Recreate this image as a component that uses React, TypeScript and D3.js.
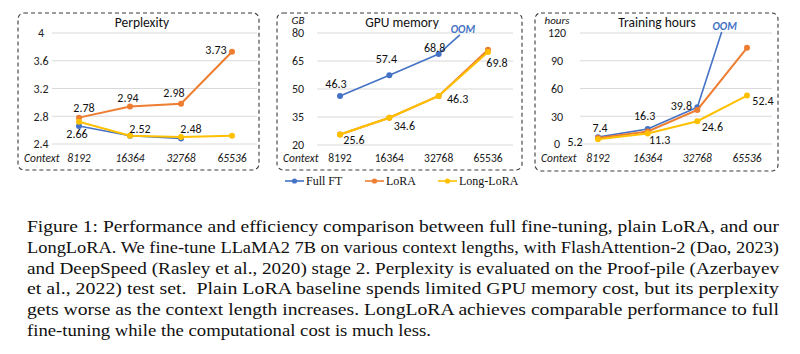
import React from "react";
import { scaleLinear, line } from "d3";

// data
const contexts = ["8192", "16364", "32768", "65536"];
const seriesNames = ["Full FT", "LoRA", "Long-LoRA"];
const seriesColors = ["#4472C4", "#ED7D31", "#FFC000"];

const perplexityFullFT = [2.66, 2.52, 2.48];
const perplexityLoRA = [2.78, 2.94, 2.98, 3.73];
const perplexityLongLoRA = [2.72, 2.52, 2.5, 2.52];
const perplexityTicks = [2.4, 2.8, 3.2, 3.6, 4];

const memoryFullFT = [46.3, 57.4, 68.8];
const memoryLoRA = [25.6, 34.6, 46.3, 71.0];
const memoryLongLoRA = [25.6, 34.6, 46.3, 69.8];
const memoryTicks = [20, 35, 50, 65, 80];
const memoryOOM = [2.43, 79]; // [context index, GB] where the Full FT line runs out

const hoursFullFT = [7.4, 16.3, 39.8];
const hoursLoRA = [6.6, 13.6, 36.8, 104];
const hoursLongLoRA = [5.2, 11.3, 24.6, 52.4];
const hoursTicks = [0, 30, 60, 90, 120];
const hoursOOM = [2.49, 121];

const caption = [
  "Figure 1: Performance and efficiency comparison between full fine-tuning, plain LoRA, and our",
  "LongLoRA. We fine-tune LLaMA2 7B on various context lengths, with FlashAttention-2 (Dao, 2023)",
  "and DeepSpeed (Rasley et al., 2020) stage 2. Perplexity is evaluated on the Proof-pile (Azerbayev",
  "et al., 2022) test set.  Plain LoRA baseline spends limited GPU memory cost, but its perplexity",
  "gets worse as the context length increases. LongLoRA achieves comparable performance to full",
  "fine-tuning while the computational cost is much less.",
];
const captionWidths = [752, 752, 752, 752, 752, 404];

const chartFont = "Calibri, Carlito, Lato, sans-serif";
const serif = "'Liberation Serif', 'Times New Roman', serif";

// layout per panel
const panels = [
  {
    title: "Perplexity",
    unit: null,
    series: [perplexityFullFT, perplexityLoRA, perplexityLongLoRA],
    ticks: perplexityTicks,
    oom: null,
    digits: 2,
    box: [18, 13, 259, 170],
    xr: [79, 232],
    yr: [144, 33],
    grid: [52, 257],
    tickX: 41,
    titleX: 142,
    italicX: true,
    fmt: (v) => (v === 4 ? "4" : v.toFixed(1)),
    // [series, index, dx, dy]
    labels: [
      [1, 0, 5, -6],
      [1, 1, -2, -5],
      [1, 2, -7, -7],
      [1, 3, -16, 2],
      [0, 0, -2, 12],
      [0, 1, 10, -3],
      [0, 2, 10, -5],
    ],
  },
  {
    title: "GPU memory",
    unit: "GB",
    series: [memoryFullFT, memoryLoRA, memoryLongLoRA],
    ticks: memoryTicks,
    oom: memoryOOM,
    digits: 1,
    box: [277, 13, 522, 170],
    xr: [340, 488],
    yr: [145, 33],
    grid: [317, 513],
    tickX: 298,
    titleX: 402,
    italicX: false,
    fmt: (v) => String(v),
    labels: [
      [0, 0, -4, -8],
      [0, 1, -3, -12],
      [0, 2, -4, -2],
      [2, 3, 9, 15],
      [2, 2, 19, 7],
      [2, 1, 15, 12],
      [2, 0, 14, 9],
    ],
  },
  {
    title: "Training hours",
    unit: "hours",
    series: [hoursFullFT, hoursLoRA, hoursLongLoRA],
    ticks: hoursTicks,
    oom: hoursOOM,
    digits: 1,
    box: [535, 13, 778, 171],
    xr: [598, 747],
    yr: [144, 33],
    grid: [580, 772],
    tickX: 557,
    titleX: 657,
    italicX: true,
    fmt: (v) => String(v),
    labels: [
      [0, 0, 2, -5],
      [2, 0, -23, 7],
      [0, 1, -3, -9],
      [2, 1, 12, 10],
      [0, 2, -16, 3],
      [2, 2, 15, 10],
      [2, 3, 16, 9],
    ],
  },
];

function Panel({ p }) {
  const x = scaleLinear().domain([0, contexts.length - 1]).range(p.xr);
  const y = scaleLinear().domain([p.ticks[0], p.ticks[p.ticks.length - 1]]).range(p.yr);
  const gen = line()
    .x((d) => x(d[0]))
    .y((d) => y(d[1]));
  const [bx0, by0, bx1, by1] = p.box;
  const full = p.series[0];

  return (
    <g>
      <rect
        x={bx0}
        y={by0}
        width={bx1 - bx0}
        height={by1 - by0}
        rx={6}
        fill="none"
        stroke="#3a3a3a"
        strokeWidth={1.1}
        strokeDasharray="4 3"
      />
      <text x={p.titleX} y={27} textAnchor="middle" fontSize={13.5} fill="#111">
        {p.title}
      </text>
      {p.unit && (
        <text x={p.tickX} y={24} textAnchor="middle" fontSize={11} fontStyle="italic" fill="#111">
          {p.unit}
        </text>
      )}
      {p.ticks.map((t) => (
        <g key={t}>
          <line x1={p.grid[0]} x2={p.grid[1]} y1={y(t)} y2={y(t)} stroke="#d9d9d9" strokeWidth={1} />
          <text x={p.tickX} y={y(t)} dy="0.36em" textAnchor="middle" fontSize={12} fill="#222">
            {p.fmt(t)}
          </text>
        </g>
      ))}
      <text x={bx0 + 6} y={162} fontSize={11.5} fontStyle="italic" fill="#222">
        Context
      </text>
      {contexts.map((c, i) => (
        <text
          key={c}
          x={x(i)}
          y={162}
          textAnchor="middle"
          fontSize={11.5}
          fontStyle={p.italicX ? "italic" : "normal"}
          fill="#222"
        >
          {c}
        </text>
      ))}
      {p.oom && (
        <g>
          <path
            d={gen([[full.length - 1, full[full.length - 1]], p.oom])}
            fill="none"
            stroke={seriesColors[0]}
            strokeWidth={1.6}
          />
          <text
            x={x(p.oom[0]) + 3}
            y={y(p.oom[1]) - 2}
            textAnchor="middle"
            fontSize={11}
            fontWeight="bold"
            fontStyle="italic"
            fill={seriesColors[0]}
          >
            OOM
          </text>
        </g>
      )}
      {p.series.map((s, k) => (
        <g key={k}>
          <path
            d={gen(s.map((v, i) => [i, v]))}
            fill="none"
            stroke={seriesColors[k]}
            strokeWidth={k === 0 ? 1.6 : 2}
          />
          {s.map((v, i) => (
            <circle key={i} cx={x(i)} cy={y(v)} r={3} fill={seriesColors[k]} />
          ))}
        </g>
      ))}
      {p.labels.map(([k, i, dx, dy]) => {
        const v = p.series[k][i];
        return (
          <text
            key={`${k}-${i}`}
            x={x(i) + dx}
            y={y(v) + dy}
            textAnchor="middle"
            fontSize={12}
            fill="#111"
          >
            {v.toFixed(p.digits)}
          </text>
        );
      })}
    </g>
  );
}

function Legend() {
  const starts = [285, 365, 438];
  return (
    <g fontFamily={serif} fontSize={12}>
      {seriesNames.map((n, k) => (
        <g key={n}>
          <line x1={starts[k]} x2={starts[k] + 19} y1={181} y2={181} stroke={seriesColors[k]} strokeWidth={1.6} />
          <circle cx={starts[k] + 9.5} cy={181} r={2.6} fill={seriesColors[k]} />
          <text x={starts[k] + 21} y={185} fill="#111">
            {n}
          </text>
        </g>
      ))}
    </g>
  );
}

export default function App() {
  return (
    <svg
      width={800}
      height={354}
      style={{ position: "absolute", left: 0, top: 0, background: "#fff" }}
    >
      <g fontFamily={chartFont}>
        {panels.map((p) => (
          <Panel key={p.title} p={p} />
        ))}
      </g>
      <Legend />
      <g fontFamily={serif} fontSize={17.5} fill="#111">
        {caption.map((t, i) => (
          <text
            key={i}
            x={27}
            y={232 + i * 20.8}
            textLength={captionWidths[i]}
            lengthAdjust="spacingAndGlyphs"
            xmlSpace="preserve"
          >
            {t}
          </text>
        ))}
      </g>
    </svg>
  );
}
